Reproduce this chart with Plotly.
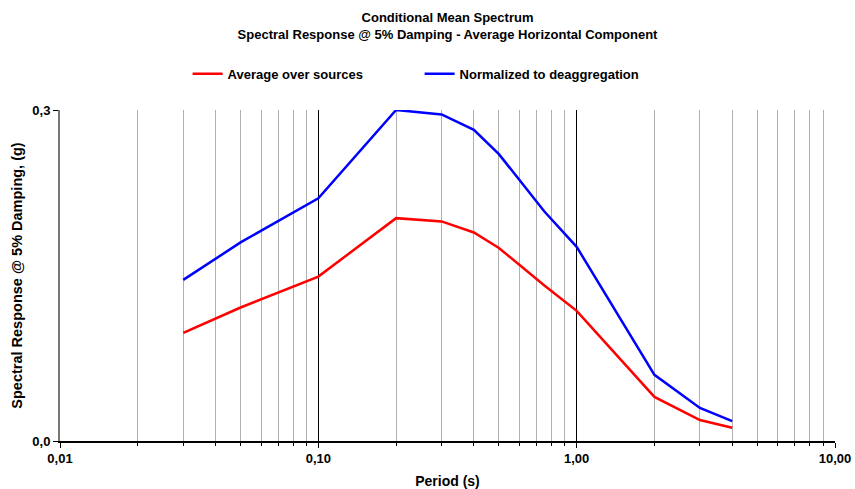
import plotly.graph_objects as go

periods = [0.03, 0.05, 0.1, 0.2, 0.3, 0.4, 0.5, 0.75, 1.0, 2.0, 3.0, 4.0]
avg_sources = [0.098, 0.121, 0.149, 0.202, 0.199, 0.189, 0.175, 0.141, 0.118, 0.040, 0.019, 0.012]
normalized = [0.146, 0.180, 0.220, 0.300, 0.296, 0.282, 0.260, 0.208, 0.176, 0.060, 0.030, 0.018]

x_major = [0.01, 0.1, 1, 10]
x_major_text = ["0,01", "0,10", "1,00", "10,00"]
x_minor = [0.02, 0.03, 0.04, 0.05, 0.06, 0.07, 0.08, 0.09,
           0.2, 0.3, 0.4, 0.5, 0.6, 0.7, 0.8, 0.9,
           2, 3, 4, 5, 6, 7, 8, 9]
y_ticks = [0.0, 0.3]
y_text = ["0,0", "0,3"]

FONT = "Liberation Sans, Arial, sans-serif"

fig = go.Figure()
fig.add_trace(go.Scatter(x=periods, y=avg_sources, mode="lines", name="<b>Average over sources</b>",
                         line=dict(color="#ff0000", width=2.5)))
fig.add_trace(go.Scatter(x=periods, y=normalized, mode="lines", name="<b>Normalized to deaggregation</b>",
                         line=dict(color="#0000ff", width=2.5)))

fig.update_layout(
    width=855, height=489,
    paper_bgcolor="white", plot_bgcolor="white",
    margin=dict(l=60, r=20, t=110, b=48, autoexpand=False),
    font=dict(family=FONT, size=13, color="black"),
    title=dict(text="<b>Conditional Mean Spectrum<br>Spectral Response @ 5% Damping - Average Horizontal Component</b>",
               x=0.5, xanchor="center", xref="paper", y=0.954, yanchor="middle",
               font=dict(family=FONT, size=13, color="black")),
    legend=dict(orientation="h", x=0.464, xanchor="center", y=1.109, yanchor="middle",
                font=dict(family=FONT, size=13, color="black"),
                entrywidth=187, entrywidthmode="pixels", itemwidth=30,
                bgcolor="rgba(0,0,0,0)"),
    showlegend=True,
)

fig.update_xaxes(
    type="log", range=[-2, 1], automargin=False,
    tickvals=x_major, ticktext=["<b>" + t + "</b>" for t in x_major_text],
    showgrid=True, gridcolor="#000000", gridwidth=1,
    showline=True, linecolor="#000000", linewidth=1.5,
    ticks="outside", ticklen=5, tickcolor="#000000",
    tickfont=dict(family=FONT, size=13, color="black"),
    title=dict(text="<b>Period (s)</b>", font=dict(family=FONT, size=14, color="black"), standoff=11),
    minor=dict(tickvals=x_minor, showgrid=True, gridcolor="#b0b0b0", gridwidth=1,
               ticks="outside", ticklen=3, tickcolor="#000000"),
    zeroline=False,
)
fig.update_yaxes(
    range=[0, 0.3], automargin=False,
    tickvals=y_ticks, ticktext=["<b>" + t + "</b>" for t in y_text],
    showgrid=True, gridcolor="#555555", gridwidth=1,
    showline=True, linecolor="#777777", linewidth=2,
    ticks="outside", ticklen=5, tickcolor="#000000",
    tickfont=dict(family=FONT, size=13, color="black"),
    title=dict(text="<b>Spectral Response @ 5% Damping, (g)</b>", font=dict(family=FONT, size=14.5, color="black"), standoff=6),
    zeroline=False,
)

fig.write_html("out.html", config={"displayModeBar": False},
               post_script="document.body.style.margin='0px';")
